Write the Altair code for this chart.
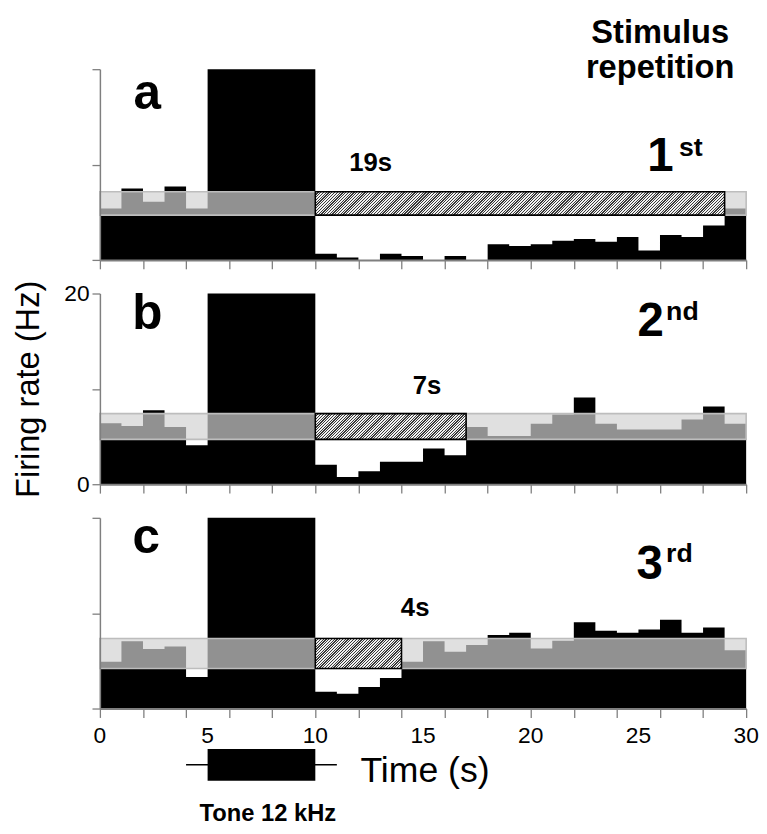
import altair as alt
import pandas as pd

# ---------------- data ----------------
seconds = list(range(30))                      # 1-s bins, 0..29
rate_a = [5.4, 7.5, 6.1, 7.7, 5.4, 20, 20, 20, 20, 20,
          0.65, 0.25, 0.0, 0.65, 0.4, 0.0, 0.4, 0.0, 1.65, 1.45,
          1.65, 2.0, 2.2, 1.9, 2.4, 1.0, 2.6, 2.4, 3.6, 5.4]
rate_b = [6.4, 6.1, 7.75, 6.0, 4.1, 20, 20, 20, 20, 20,
          2.05, 0.75, 1.35, 2.35, 2.35, 3.75, 3.05, 6.0, 5.05, 5.05,
          6.35, 7.3, 9.1, 6.35, 5.75, 5.75, 5.75, 6.8, 8.15, 6.35]
rate_c = [4.9, 7.05, 6.25, 6.5, 3.3, 20, 20, 20, 20, 20,
          1.75, 1.55, 2.25, 3.2, 4.9, 7.05, 5.95, 6.65, 7.7, 7.95,
          6.3, 7.1, 9.05, 8.15, 7.95, 8.3, 9.3, 7.95, 8.5, 6.1]
rates = [rate_a, rate_b, rate_c]
band_low = [4.7, 4.7, 4.2]          # spontaneous-rate band (Hz)
band_high = [7.15, 7.4, 7.35]
recovery_s = [19, 7, 4]             # recovery time after tone offset
recovery_labels = ["19s", "7s", "4s"]
panel_letters = ["a", "b", "c"]
ordinals = ["1", "2", "3"]
ordinal_suffix = ["st", "nd", "rd"]
tone_on, tone_off = 5, 10
tone_line = [4, 11]
x_ticks = list(range(0, 31))
x_labels = list(range(0, 31, 5))
y_ticks = [0, 10, 20]
t_max = 30
y_max = 20

# ---------------- layout ----------------
W, H = 654, 193
PX_S = W / t_max
PX_HZ = H / y_max
FONT = "Liberation Sans"
AX_GRAY = "#7f7f7f"


def hatch(width_px, height_px, period=2.8, dark=0.45):
    r = height_px / width_px
    a = (1 + r) / (1 + r * r)
    n = int(round(width_px * (1 + r) / period))
    stops = []
    for k in range(n):
        o0, o1, o2 = k / n, (k + dark) / n, (k + 1) / n
        stops += [{"offset": o0, "color": "#3a3a3a"},
                  {"offset": o1, "color": "#3a3a3a"},
                  {"offset": o1, "color": "#f0f0f0"},
                  {"offset": o2, "color": "#f0f0f0"}]
    return {"gradient": "linear", "x1": 0, "y1": 0, "x2": a, "y2": a * r,
            "stops": stops}


# text placement (pixels inside each panel)
letter_pos = [(48, 40), (48, 36), (47, 36)]
ord_pos = [(554, 103), (544, 43), (543, 62)]
suf_pos = [(586, 88), (573, 27), (573, 45)]
rec_pos = [(274, 103), (331, 102), (319, 99)]


def panel(i):
    xs = alt.Scale(domain=[0, t_max], nice=False, zero=False)
    ys = alt.Scale(domain=[0, y_max], nice=False)
    mid = i == 1
    x_axis = alt.Axis(values=x_ticks, tickSize=9, tickColor=AX_GRAY, tickWidth=1.3,
                      domainColor=AX_GRAY, domainWidth=2, grid=False,
                      labels=False, title=None, zindex=1)
    y_axis = alt.Axis(values=y_ticks, tickSize=8, tickColor=AX_GRAY, tickWidth=1.3,
                      domainColor=AX_GRAY, domainWidth=1.5, grid=False,
                      labels=mid, labelFontSize=23, labelFont=FONT,
                      labelColor="black", labelPadding=3, labelOverlap=False,
                      labelExpr="datum.value === 10 ? '' : datum.label",
                      title="Firing rate (Hz)" if mid else None,
                      titleFontSize=33, titleFont=FONT, titleFontWeight="normal",
                      titleColor="black", titleAngle=-90, titleX=-62, titleY=H / 2,
                      titleAlign="center", titleBaseline="alphabetic", zindex=1)

    bars = pd.DataFrame({"t": seconds + [t_max], "rate": rates[i] + [rates[i][-1]]})
    band = pd.DataFrame({"x0": [0], "x1": [t_max], "lo": [band_low[i]], "hi": [band_high[i]]})
    box = pd.DataFrame({"x0": [tone_off], "x1": [tone_off + recovery_s[i]],
                        "lo": [band_low[i]], "hi": [band_high[i]]})

    bar_layer = alt.Chart(bars).mark_area(color="black", interpolate="step-after").encode(
        x=alt.X("t:Q", scale=xs, axis=x_axis),
        y=alt.Y("rate:Q", scale=ys, axis=y_axis))
    band_layer = alt.Chart(band).mark_rect(fill="#d2d2d2", fillOpacity=0.69,
                                           stroke="#bdbdbd", strokeWidth=1.6).encode(
        x="x0:Q", x2="x1:Q", y="lo:Q", y2="hi:Q")
    box_layer = alt.Chart(box).mark_rect(
        fill=hatch(recovery_s[i] * PX_S, (band_high[i] - band_low[i]) * PX_HZ),
        stroke="black", strokeWidth=1.6).encode(
        x="x0:Q", x2="x1:Q", y="lo:Q", y2="hi:Q")

    def txt(s, pos, size, align="left", weight="bold"):
        return alt.Chart(pd.DataFrame({"s": [s]})).mark_text(
            font=FONT, fontSize=size, fontWeight=weight, align=align,
            baseline="alphabetic", color="black").encode(
            text="s:N", x=alt.value(pos[0]), y=alt.value(pos[1]))

    layers = [bar_layer, band_layer, box_layer,
              txt(panel_letters[i], letter_pos[i], 50, "center"),
              txt(ordinals[i], ord_pos[i], 48),
              txt(ordinal_suffix[i], suf_pos[i], 27),
              txt(recovery_labels[i], rec_pos[i], 26, "center")]
    if i == 0:
        layers += [txt("Stimulus", (567, -27), 33, "center"),
                   txt("repetition", (567, 9), 33, "center")]
    if i == 2:
        # tick labels of the time axis (0, 5, ..., 30)
        lab = pd.DataFrame({"t": x_labels})
        layers.append(alt.Chart(lab).mark_text(
            font=FONT, fontSize=23, baseline="middle", color="black").encode(
            x="t:Q", y=alt.value(H + 28), text=alt.Text("t:Q")))
    return alt.layer(*layers).properties(width=W, height=H)


# tone marker panel
tone_df = pd.DataFrame({"on": [tone_on], "off": [tone_off],
                        "l0": [tone_line[0]], "l1": [tone_line[1]]})
txs = alt.Scale(domain=[0, t_max], nice=False, zero=False)
tone_line_layer = alt.Chart(tone_df).mark_rule(color="black", strokeWidth=1.5).encode(
    x=alt.X("l0:Q", scale=txs, axis=None), x2="l1:Q", y=alt.value(23))
tone_box_layer = alt.Chart(tone_df).mark_rect(fill="black").encode(
    x=alt.X("on:Q", scale=txs, axis=None), x2="off:Q", y=alt.value(7), y2=alt.value(39))
tone_text = alt.Chart(pd.DataFrame({"s": ["Tone 12 kHz"]})).mark_text(
    font=FONT, fontSize=24, fontWeight="bold", align="center", baseline="alphabetic").encode(
    text="s:N", x=alt.value(170), y=alt.value(80))
time_text = alt.Chart(pd.DataFrame({"s": ["Time (s)"]})).mark_text(
    font=FONT, fontSize=36, fontWeight="normal", align="center", baseline="middle").encode(
    text="s:N", x=alt.value(329), y=alt.value(29))
tone_panel = alt.layer(tone_line_layer, tone_box_layer, tone_text, time_text).properties(
    width=W, height=80)

chart = alt.vconcat(panel(0), panel(1), panel(2), tone_panel, spacing=34, bounds="flush").resolve_scale(
    x="independent", y="independent").properties(
    padding={"left": 4, "top": 4, "right": 0, "bottom": 0}).configure(
    font=FONT, view=alt.ViewConfig(strokeWidth=0, stroke="transparent"))

chart.save("out.html", embed_options={"renderer": "svg", "actions": False})
